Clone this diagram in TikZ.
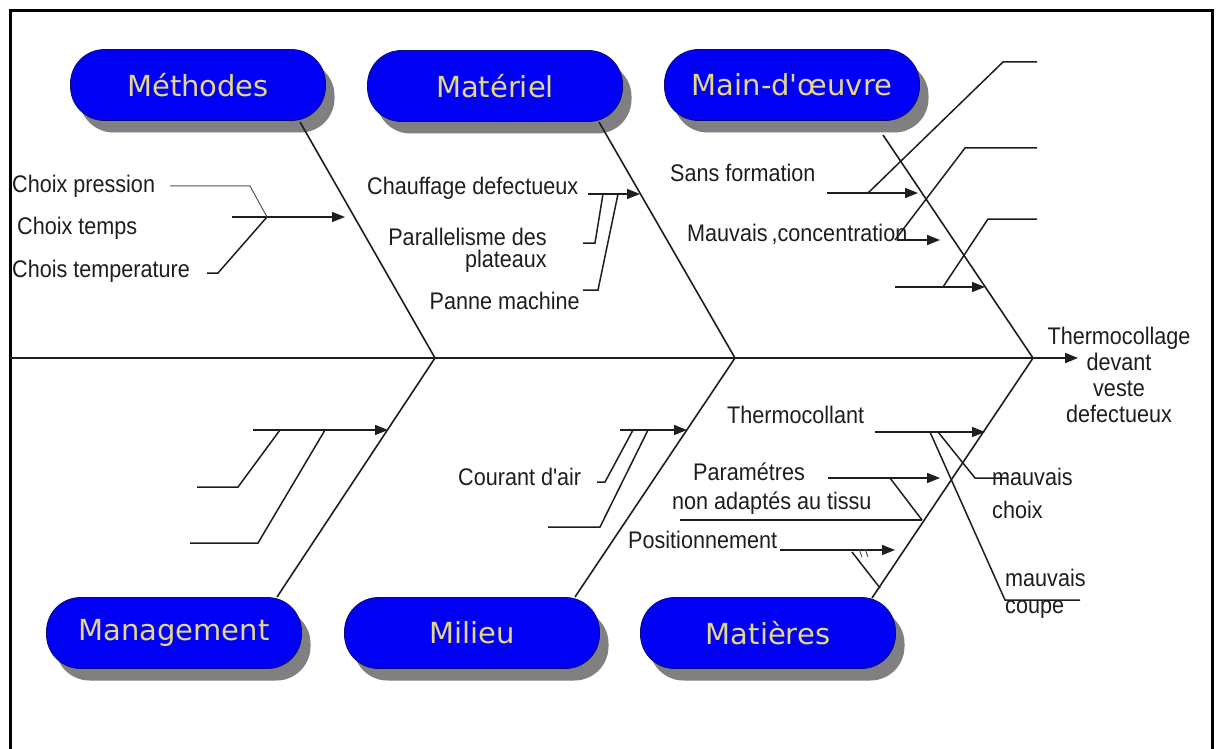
\documentclass[tikz,border=0pt]{standalone}
\usepackage{fontspec}
\setmainfont{Liberation Sans}
\newfontfamily\labfont{Liberation Sans}[FakeStretch=0.9]
\newfontfamily\catfont{DejaVu Sans}
\usetikzlibrary{arrows.meta,shadows}
\definecolor{pillblue}{RGB}{0,0,245}
\definecolor{pilledge}{RGB}{10,10,120}
\definecolor{pilltext}{RGB}{230,214,135}
\definecolor{shadowgray}{RGB}{128,128,128}
\definecolor{ink}{RGB}{30,30,30}
\begin{document}
\begin{tikzpicture}[x=1pt,y=-1pt,
  bone/.style={line width=1.6pt, draw=ink},
  sub/.style={line width=1.5pt, draw=ink},
  thinsub/.style={line width=1pt, draw=ink!75},
  arr/.style={sub,-{Triangle[length=13pt,width=10pt]}},
  lab/.style={inner sep=0pt, text=ink, font=\labfont\fontsize{24}{22}\selectfont},
  pill/.style={fill=pillblue, draw=pilledge, line width=0.8pt, rounded corners=34pt,
    minimum width=255pt, minimum height=71pt, inner sep=0pt,
    text=pilltext, font=\catfont\fontsize{29}{30}\selectfont,
    drop shadow={shadow xshift=9pt, shadow yshift=-12pt, fill=shadowgray, opacity=1}}
]
\useasboundingbox (0,0) rectangle (1219,749);
\clip (0,0) rectangle (1219,749);
\fill[white] (0,0) rectangle (1219,749);
% frame
\draw[line width=3pt] (10,770) -- (10,11) -- (1212,11) -- (1212,770);

% category pills
\node[pill] (meth) at (198,85) {Méthodes};
\node[pill] (mat)  at (495,86) {Matériel};
\node[pill] (mo)   at (792,85) {Main-d'œuvre};
\node[pill] (mgt)  at (174,633) {Management};
\node[pill] (mil)  at (472,633) {Milieu};
\node[pill] (mats) at (768,633) {Matières};

% spine and bones
\coordinate (s0) at (10,358);
\coordinate (a1) at (435,358);
\coordinate (a2) at (735,358);
\coordinate (a3) at (1033,358);
\coordinate (s1) at (1078,358);
\draw[line width=2pt, draw=ink] (s0) -- (a3);
\draw[line width=2pt, draw=ink, -{Triangle[length=13pt,width=10pt]}] (a3) -- (s1);
\coordinate (b1) at (300,122);
\coordinate (b2) at (599,122);
\coordinate (b3) at (883,135);
\coordinate (c1) at (277,597);
\coordinate (c2) at (575,597);
\coordinate (c3) at (872,598);
\draw[bone] (b1) -- (a1) -- (c1);
\draw[bone] (b2) -- (a2) -- (c2);
\draw[bone] (b3) -- (a3) -- (c3);

% effect
\node[inner sep=0pt, align=center, text=ink, font=\labfont\fontsize{24}{26}\selectfont] (eff) at (1119,375)
  {Thermocollage\\devant\\veste\\defectueux};

% Methodes causes
\node[lab, anchor=west] (cp) at (12,186) {Choix pression};
\node[lab, anchor=west] (ct) at (17,228) {Choix temps};
\node[lab, anchor=west] (cte) at (12,271) {Chois temperature};
\coordinate (m0) at (232,217);
\coordinate (mj) at (267,217);
\coordinate (m1) at (345,217);
\draw[arr] (m0) -- (m1);
\draw[thinsub] (170,186) -- (250,186) -- (mj);
\draw[sub] (207,273) -- (218,273) -- (mj);

% Materiel causes
\node[lab, anchor=west] (chd) at (367,188) {Chauffage defectueux};
\node[lab, anchor=east, align=right] (par) at (547,250) {Parallelisme des\\plateaux};
\node[lab, anchor=east] (pan) at (580,301) {Panne machine};
\coordinate (t0) at (588,194);
\coordinate (t1) at (640,194);
\draw[arr] (t0) -- (t1);
\draw[sub] (583,243) -- (595,243) -- (603,194);
\draw[sub] (583,290) -- (598,290) -- (618,194);

% Main-d'oeuvre causes
\node[lab, anchor=west] (sf) at (670,173) {Sans formation};
\node[lab, anchor=west] (mc) at (687,234) {Mauvais\,,concentration};
\draw[arr] (827,193) -- (918,193);
\draw[sub] (868,193) -- (1003,62) -- (1037,62);
\draw[arr] (897,240) -- (940,240);
\draw[sub] (895,240) -- (965,148) -- (1037,148);
\draw[arr] (895,287) -- (985,287);
\draw[sub] (943,287) -- (988,219) -- (1037,219);

% Management causes
\draw[arr] (253,430) -- (388,430);
\draw[sub] (197,487) -- (238,487) -- (280,430);
\draw[sub] (190,543) -- (258,543) -- (325,430);

% Milieu causes
\node[lab, anchor=west] (ca) at (458,477) {Courant d'air};
\draw[arr] (620,430) -- (687,430);
\draw[sub] (597,482) -- (605,482) -- (633,430);
\draw[sub] (548,527) -- (600,527) -- (648,430);

% Matieres causes
\node[lab, anchor=west] (thc) at (727,415) {Thermocollant};
\node[lab, anchor=west] (prm) at (693,472) {Paramétres};
\node[lab, anchor=west] (nad) at (672,503) {non adaptés au tissu};
\node[lab, anchor=west] (pos) at (628,540) {Positionnement};
\node[lab, anchor=west] (mv1) at (992,477) {mauvais};
\node[lab, anchor=west] (ch) at (992,510) {choix};
\node[lab, anchor=west] (mv2) at (1005,578) {mauvais};
\node[lab, anchor=west] (cou) at (1005,610) {coupe};
\draw[arr] (875,432) -- (985,432);
\draw[sub] (930,432) -- (1005,600) -- (1080,600);
\draw[sub] (938,432) -- (975,478) -- (1008,478);
\draw[arr] (828,478) -- (940,478);
\draw[sub] (890,478) -- (922,520);
\draw[sub] (680,520) -- (922,520);
\draw[arr] (780,550) -- (895,550);
\draw[sub] (852,552) -- (880,588);
\draw[thinsub] (859,549) -- (862,557);
\draw[thinsub] (865,549) -- (868,557);
\end{tikzpicture}
\end{document}
